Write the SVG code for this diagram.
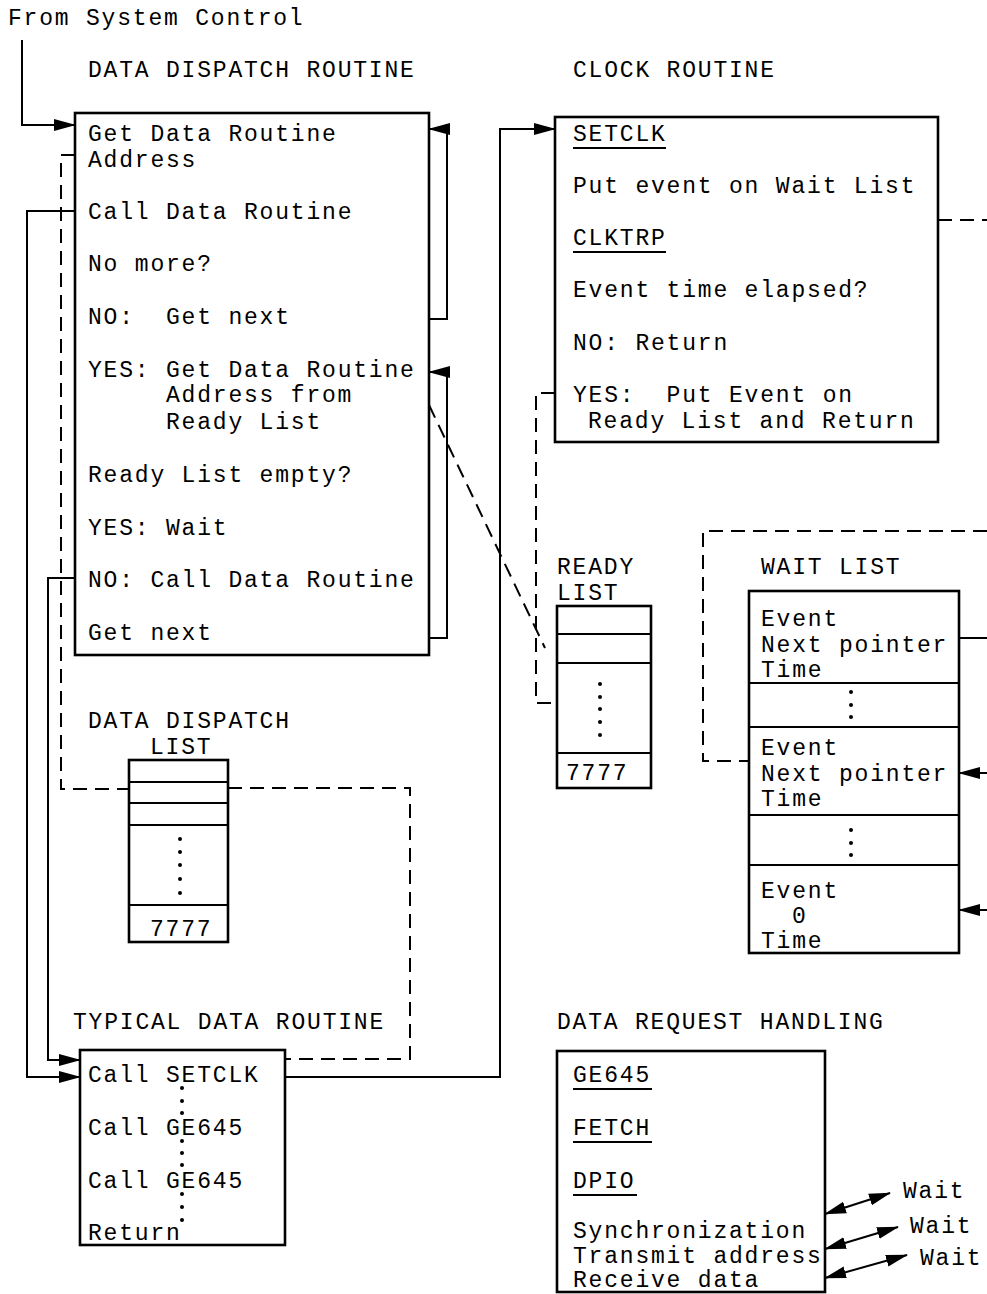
<svg xmlns="http://www.w3.org/2000/svg" width="987" height="1294" viewBox="0 0 987 1294">
<defs>
<style>
text{font-family:"Liberation Mono","Courier New",monospace;font-size:23px;letter-spacing:1.8px;fill:#000;white-space:pre}
.box{fill:none;stroke:#000;stroke-width:2.6}
.ln{fill:none;stroke:#000;stroke-width:2}
.ds{fill:none;stroke:#000;stroke-width:2;stroke-dasharray:14,8}
.ul{stroke:#000;stroke-width:1.8}
.dot{fill:#000}
</style>
<marker id="ah" markerUnits="userSpaceOnUse" markerWidth="22" markerHeight="14" refX="21" refY="7" orient="auto-start-reverse">
<path d="M0,1 L22,7 L0,13 z" fill="#000"/>
</marker>
</defs>
<rect width="987" height="1294" fill="#fff"/>

<text x="8" y="25">From System Control</text>
<text x="88" y="77">DATA DISPATCH ROUTINE</text>
<text x="573" y="77">CLOCK ROUTINE</text>

<g id="dispatch-routine">
<rect class="box" x="75" y="113" width="354" height="542"/>
<text x="88" y="141">Get Data Routine</text>
<text x="88" y="167">Address</text>
<text x="88" y="219">Call Data Routine</text>
<text x="88" y="271">No more?</text>
<text x="88" y="324">NO:  Get next</text>
<text x="88" y="377">YES: Get Data Routine</text>
<text x="166" y="402">Address from</text>
<text x="166" y="429">Ready List</text>
<text x="88" y="482">Ready List empty?</text>
<text x="88" y="535">YES: Wait</text>
<text x="88" y="587">NO: Call Data Routine</text>
<text x="88" y="640">Get next</text>
</g>

<g id="clock-routine">
<rect class="box" x="555" y="117" width="383" height="325"/>
<text x="573" y="141">SETCLK</text>
<line class="ul" x1="573" y1="148" x2="666" y2="148"/>
<text x="573" y="193">Put event on Wait List</text>
<text x="573" y="245">CLKTRP</text>
<line class="ul" x1="573" y1="252" x2="666" y2="252"/>
<text x="573" y="297">Event time elapsed?</text>
<text x="573" y="350">NO: Return</text>
<text x="573" y="402">YES:  Put Event on</text>
<text x="588" y="428">Ready List and Return</text>
</g>

<g id="dispatch-list">
<text x="88" y="728">DATA DISPATCH</text>
<text x="150" y="754">LIST</text>
<rect class="box" x="129" y="760" width="99" height="182"/>
<line class="ln" x1="129" y1="782" x2="228" y2="782"/>
<line class="ln" x1="129" y1="803" x2="228" y2="803"/>
<line class="ln" x1="129" y1="825" x2="228" y2="825"/>
<line class="ln" x1="129" y1="905" x2="228" y2="905"/>
<circle class="dot" cx="180" cy="839" r="2"/>
<circle class="dot" cx="180" cy="852" r="2"/>
<circle class="dot" cx="180" cy="865" r="2"/>
<circle class="dot" cx="180" cy="879" r="2"/>
<circle class="dot" cx="180" cy="893" r="2"/>
<text x="150" y="936">7777</text>
</g>

<g id="ready-list">
<text x="557" y="574">READY</text>
<text x="557" y="600">LIST</text>
<rect class="box" x="557" y="606" width="94" height="182"/>
<line class="ln" x1="557" y1="634" x2="651" y2="634"/>
<line class="ln" x1="557" y1="663" x2="651" y2="663"/>
<line class="ln" x1="557" y1="753" x2="651" y2="753"/>
<circle class="dot" cx="600" cy="684" r="2"/>
<circle class="dot" cx="600" cy="697" r="2"/>
<circle class="dot" cx="600" cy="709" r="2"/>
<circle class="dot" cx="600" cy="722" r="2"/>
<circle class="dot" cx="600" cy="735" r="2"/>
<text x="566" y="780">7777</text>
</g>

<g id="wait-list">
<text x="761" y="574">WAIT LIST</text>
<rect class="box" x="749" y="591" width="210" height="362"/>
<line class="ln" x1="749" y1="683" x2="959" y2="683"/>
<line class="ln" x1="749" y1="727" x2="959" y2="727"/>
<line class="ln" x1="749" y1="815" x2="959" y2="815"/>
<line class="ln" x1="749" y1="865" x2="959" y2="865"/>
<text x="761" y="626">Event</text>
<text x="761" y="652">Next pointer</text>
<text x="761" y="677">Time</text>
<circle class="dot" cx="851" cy="692" r="2"/>
<circle class="dot" cx="851" cy="705" r="2"/>
<circle class="dot" cx="851" cy="717" r="2"/>
<text x="761" y="755">Event</text>
<text x="761" y="781">Next pointer</text>
<text x="761" y="806">Time</text>
<circle class="dot" cx="851" cy="830" r="2"/>
<circle class="dot" cx="851" cy="843" r="2"/>
<circle class="dot" cx="851" cy="855" r="2"/>
<text x="761" y="898">Event</text>
<text x="792" y="923">0</text>
<text x="761" y="948">Time</text>
</g>

<g id="typical-routine">
<text x="73" y="1029">TYPICAL DATA ROUTINE</text>
<rect class="box" x="80" y="1050" width="205" height="195"/>
<text x="88" y="1082">Call SETCLK</text>
<circle class="dot" cx="182" cy="1088" r="2"/>
<circle class="dot" cx="182" cy="1101" r="2"/>
<circle class="dot" cx="182" cy="1113" r="2"/>
<text x="88" y="1135">Call GE645</text>
<circle class="dot" cx="182" cy="1141" r="2"/>
<circle class="dot" cx="182" cy="1153" r="2"/>
<circle class="dot" cx="182" cy="1165" r="2"/>
<text x="88" y="1188">Call GE645</text>
<circle class="dot" cx="182" cy="1194" r="2"/>
<circle class="dot" cx="182" cy="1207" r="2"/>
<circle class="dot" cx="182" cy="1220" r="2"/>
<text x="88" y="1240">Return</text>
</g>

<g id="request-handling">
<text x="557" y="1029">DATA REQUEST HANDLING</text>
<rect class="box" x="557" y="1051" width="268" height="241"/>
<text x="573" y="1082">GE645</text>
<line class="ul" x1="573" y1="1089" x2="652" y2="1089"/>
<text x="573" y="1135">FETCH</text>
<line class="ul" x1="573" y1="1142" x2="652" y2="1142"/>
<text x="573" y="1188">DPIO</text>
<line class="ul" x1="573" y1="1195" x2="637" y2="1195"/>
<text x="573" y="1238">Synchronization</text>
<text x="573" y="1263">Transmit address</text>
<text x="573" y="1287">Receive data</text>
<text x="903" y="1198">Wait</text>
<text x="910" y="1233">Wait</text>
<text x="920" y="1265">Wait</text>
</g>

<g id="connectors">
<path class="ln" d="M22,40 V125 H75" marker-end="url(#ah)"/>
<path class="ln" d="M429,319 H447 V129 H429" marker-end="url(#ah)"/>
<path class="ln" d="M429,638 H447 V372 H429" marker-end="url(#ah)"/>
<path class="ln" d="M75,211 H27 V1077 H80" marker-end="url(#ah)"/>
<path class="ln" d="M75,578 H48 V1060 H80" marker-end="url(#ah)"/>
<path class="ln" d="M285,1077 H500 V129 H555" marker-end="url(#ah)"/>
<path class="ds" d="M75,155 H61 V789 H129"/>
<path class="ds" d="M228,788 H410 V1059 H285"/>
<path class="ds" d="M429,405 L545,648"/>
<path class="ds" d="M555,393 H536 V703 H557"/>
<path class="ds" d="M938,220 H987"/>
<path class="ds" d="M987,531 H703 V761 H749"/>
<path class="ln" d="M959,638 H987"/>
<path class="ln" d="M987,773 H959" marker-end="url(#ah)"/>
<path class="ln" d="M987,910 H959" marker-end="url(#ah)"/>
<path class="ln" d="M825,1214 L890,1193" marker-start="url(#ah)" marker-end="url(#ah)"/>
<path class="ln" d="M825,1249 L898,1227" marker-start="url(#ah)" marker-end="url(#ah)"/>
<path class="ln" d="M825,1278 L907,1255" marker-start="url(#ah)" marker-end="url(#ah)"/>
</g>
</svg>
